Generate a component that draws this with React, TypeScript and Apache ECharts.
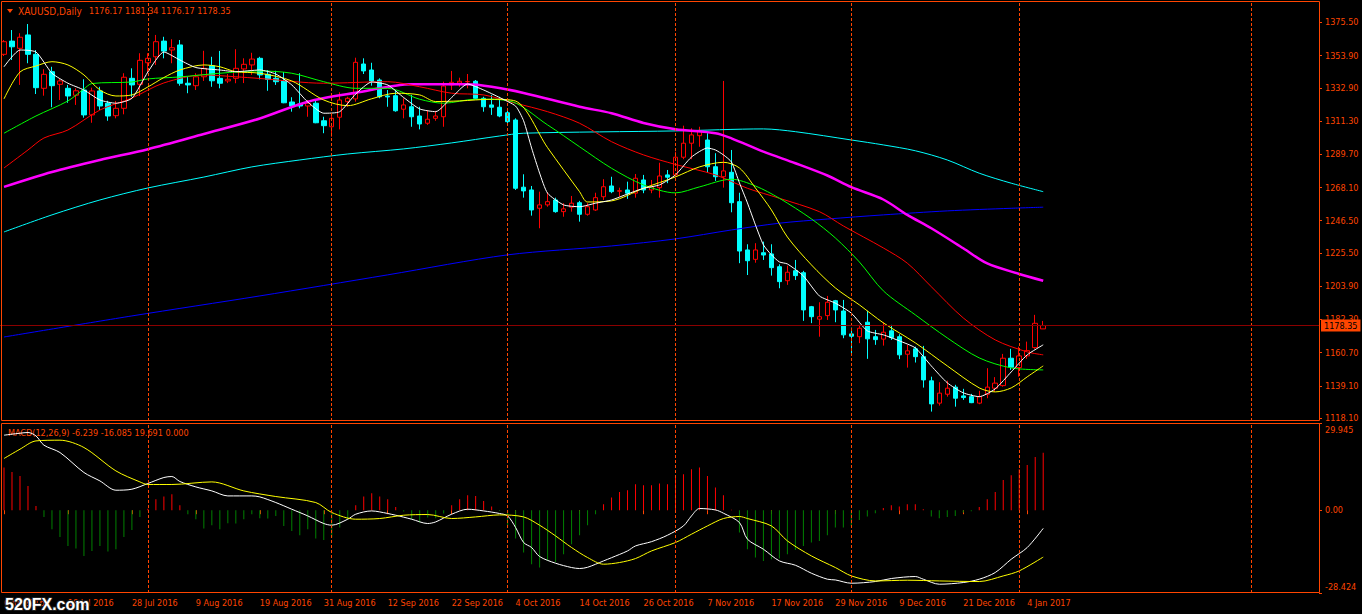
import React, { useEffect, useRef } from "react";
import * as echarts from "echarts";

const ORANGE = "#ff4500";
const FONT = "'DejaVu Sans Condensed', 'Liberation Sans', sans-serif";
const TOTAL_BARS = 165;

const symbolTitle = "XAUUSD,Daily";
const dateLabels = [
  "6 Jul 2016", "18 Jul 2016", "28 Jul 2016", "9 Aug 2016", "19 Aug 2016", "31 Aug 2016",
  "12 Sep 2016", "22 Sep 2016", "4 Oct 2016", "14 Oct 2016", "26 Oct 2016", "7 Nov 2016",
  "17 Nov 2016", "29 Nov 2016", "9 Dec 2016", "21 Dec 2016", "4 Jan 2017",
];
const priceTicks = [1375.5, 1353.9, 1332.9, 1311.3, 1289.7, 1268.1, 1246.5, 1225.5, 1203.9, 1182.3, 1160.7, 1139.1, 1118.1];
const macdTicks = [29.945, 0, -28.424];
const monthBars = [18, 41, 63, 84, 106, 127, 156];

// [open, close, low, high]
const ohlc = [
  [1354.7, 1362.9, 1353.6, 1364.0], [1363.3, 1359.6, 1351.0, 1370.5], [1358.6, 1365.8, 1334.8, 1368.4],
  [1367.3, 1354.7, 1348.9, 1374.4], [1354.7, 1333.0, 1328.9, 1357.5], [1332.6, 1341.7, 1327.8, 1345.0],
  [1343.4, 1334.3, 1320.3, 1346.6], [1335.2, 1337.4, 1325.0, 1339.1], [1332.6, 1327.6, 1323.2, 1334.8],
  [1328.1, 1331.0, 1321.8, 1332.6], [1331.5, 1315.3, 1313.5, 1338.5], [1315.3, 1330.9, 1310.2, 1333.0],
  [1330.9, 1321.1, 1318.5, 1333.6], [1322.9, 1314.6, 1311.5, 1324.5], [1314.8, 1319.6, 1313.1, 1324.4],
  [1319.6, 1339.8, 1315.7, 1342.4], [1339.1, 1334.8, 1327.1, 1345.6], [1335.2, 1350.8, 1327.6, 1355.4],
  [1349.2, 1352.1, 1343.2, 1355.4], [1353.1, 1362.9, 1347.8, 1367.3], [1363.3, 1356.8, 1352.1, 1366.1],
  [1357.5, 1359.0, 1348.9, 1364.5], [1360.8, 1335.9, 1334.3, 1364.0], [1335.9, 1334.8, 1329.4, 1340.1],
  [1334.3, 1340.1, 1331.5, 1342.4], [1340.1, 1345.6, 1337.4, 1357.0], [1347.3, 1337.5, 1333.6, 1353.1],
  [1339.1, 1335.9, 1332.6, 1356.9], [1337.4, 1338.5, 1336.0, 1341.9], [1339.1, 1345.6, 1335.9, 1358.0],
  [1345.2, 1348.2, 1336.0, 1352.1], [1347.8, 1351.6, 1341.3, 1355.7], [1352.1, 1341.3, 1338.4, 1353.1],
  [1341.7, 1338.4, 1331.0, 1344.5], [1339.1, 1336.9, 1334.8, 1344.0], [1337.5, 1323.2, 1322.9, 1343.2],
  [1323.7, 1321.1, 1317.4, 1326.8], [1322.4, 1321.1, 1319.6, 1342.4], [1321.1, 1322.9, 1314.1, 1325.0],
  [1322.9, 1310.2, 1309.9, 1325.0], [1311.5, 1308.3, 1303.4, 1314.1], [1307.6, 1313.1, 1301.1, 1315.3],
  [1313.8, 1325.0, 1305.9, 1330.0], [1323.9, 1326.1, 1320.6, 1327.1], [1325.7, 1349.5, 1323.9, 1352.5],
  [1348.4, 1343.9, 1341.9, 1352.1], [1344.5, 1337.4, 1334.3, 1349.2], [1338.0, 1327.1, 1326.1, 1339.1],
  [1327.6, 1327.0, 1320.6, 1331.5], [1327.8, 1318.0, 1317.4, 1331.5], [1319.0, 1321.8, 1313.1, 1326.1],
  [1320.6, 1314.1, 1307.6, 1328.3], [1314.6, 1309.4, 1305.9, 1320.6], [1309.9, 1312.5, 1308.8, 1318.5],
  [1313.1, 1314.6, 1311.5, 1317.9], [1314.1, 1334.1, 1307.6, 1336.9], [1334.8, 1336.5, 1331.5, 1343.9],
  [1336.0, 1337.2, 1333.6, 1339.5], [1336.9, 1337.0, 1332.6, 1341.9], [1337.2, 1326.1, 1325.5, 1338.0],
  [1326.1, 1320.6, 1317.4, 1327.1], [1321.8, 1320.3, 1315.3, 1328.3], [1320.3, 1314.6, 1313.8, 1327.1],
  [1316.7, 1310.9, 1309.9, 1319.6], [1312.0, 1267.6, 1266.5, 1313.1], [1268.3, 1265.9, 1261.5, 1276.7],
  [1266.5, 1253.5, 1249.8, 1269.1], [1254.6, 1256.8, 1241.6, 1265.4], [1256.8, 1258.9, 1255.6, 1265.0],
  [1260.0, 1252.4, 1251.7, 1261.5], [1252.4, 1254.2, 1249.1, 1257.9], [1255.3, 1257.9, 1252.4, 1262.6],
  [1258.2, 1250.7, 1245.9, 1259.4], [1250.7, 1255.6, 1249.8, 1257.9], [1253.5, 1261.5, 1252.9, 1264.7],
  [1262.1, 1268.6, 1260.0, 1273.5], [1269.1, 1265.4, 1264.4, 1275.1], [1265.7, 1266.0, 1262.1, 1268.0],
  [1266.5, 1264.4, 1260.7, 1271.9], [1264.4, 1274.1, 1261.5, 1276.9], [1273.0, 1266.5, 1264.4, 1276.3],
  [1266.5, 1268.5, 1264.4, 1273.0], [1268.0, 1275.6, 1261.5, 1284.2], [1276.3, 1274.8, 1270.9, 1279.5],
  [1276.3, 1287.8, 1275.1, 1291.4], [1287.8, 1296.9, 1286.5, 1308.3], [1296.9, 1302.3, 1286.5, 1306.6],
  [1301.8, 1304.9, 1294.6, 1307.6], [1299.0, 1281.6, 1277.7, 1303.4], [1281.6, 1275.1, 1272.4, 1290.4],
  [1275.1, 1278.9, 1268.0, 1337.4], [1278.0, 1258.2, 1252.0, 1292.5], [1258.9, 1226.8, 1218.9, 1264.7],
  [1227.5, 1220.5, 1211.2, 1231.2], [1221.4, 1227.5, 1219.2, 1231.9], [1225.7, 1224.2, 1221.0, 1232.9],
  [1224.9, 1216.0, 1210.8, 1231.2], [1216.6, 1206.9, 1202.6, 1218.2], [1207.5, 1213.0, 1204.8, 1217.3],
  [1214.0, 1210.8, 1208.0, 1221.0], [1212.7, 1188.5, 1181.4, 1213.9], [1190.6, 1184.1, 1179.9, 1191.1],
  [1182.5, 1184.1, 1171.1, 1193.5], [1184.8, 1193.5, 1182.0, 1197.6], [1194.5, 1188.5, 1180.5, 1195.0],
  [1187.8, 1172.3, 1170.1, 1195.0], [1172.9, 1171.4, 1159.9, 1177.0], [1171.1, 1176.6, 1166.9, 1178.8],
  [1180.5, 1169.7, 1156.7, 1187.9], [1171.1, 1169.2, 1165.8, 1175.5], [1169.5, 1174.0, 1165.3, 1180.5],
  [1174.9, 1170.5, 1169.0, 1178.8], [1171.1, 1159.3, 1156.5, 1172.7], [1159.7, 1161.9, 1151.0, 1165.8],
  [1163.2, 1158.1, 1154.3, 1164.6], [1158.1, 1143.0, 1138.0, 1165.1], [1142.4, 1127.4, 1122.4, 1145.1],
  [1127.9, 1134.4, 1126.3, 1141.5], [1133.7, 1137.6, 1132.1, 1142.5], [1138.3, 1131.1, 1125.6, 1139.8],
  [1132.6, 1131.5, 1130.0, 1137.2], [1132.1, 1128.2, 1127.9, 1133.9], [1127.9, 1132.1, 1127.2, 1135.9],
  [1133.7, 1138.3, 1131.1, 1150.6], [1137.6, 1140.9, 1135.4, 1144.8], [1139.3, 1157.1, 1138.6, 1159.9],
  [1157.1, 1151.3, 1149.5, 1163.2], [1151.0, 1158.6, 1145.1, 1164.6], [1158.6, 1162.0, 1156.7, 1167.9],
  [1164.0, 1179.8, 1163.2, 1185.3], [1176.17, 1178.35, 1176.17, 1181.34],
];

// moving averages: [bar index, price]
const maWhite = [
  [0, 1346.6], [2, 1357.5], [4, 1356.2], [6, 1342.4], [8, 1335.9], [10, 1331.5], [12, 1325.0], [14, 1322.9],
  [16, 1326.1], [18, 1343.2], [20, 1356.2], [22, 1351.0], [24, 1346.1], [27, 1344.5], [29, 1343.4], [32, 1344.5],
  [34, 1341.9], [36, 1334.8], [38, 1323.7], [40, 1316.4], [42, 1317.4], [44, 1328.9], [46, 1336.7], [48, 1334.8],
  [50, 1326.6], [52, 1319.2], [54, 1317.4], [56, 1326.6], [58, 1335.4], [60, 1331.5], [62, 1326.6], [64, 1321.0],
  [65, 1311.5], [66, 1293.8], [67, 1277.5], [68, 1264.4], [70, 1256.8], [72, 1255.6], [74, 1257.9], [76, 1260.0],
  [78, 1263.9], [80, 1267.6], [82, 1269.8], [84, 1276.3], [86, 1287.9], [88, 1293.8], [89, 1292.5], [90, 1289.3],
  [91, 1284.7], [92, 1271.1], [93, 1258.1], [94, 1243.8], [95, 1230.8], [96, 1224.3], [97, 1219.7], [98, 1218.4],
  [100, 1210.6], [102, 1197.6], [104, 1192.9], [106, 1186.4], [108, 1174.9], [110, 1172.3], [112, 1168.4],
  [114, 1163.8], [116, 1152.1], [118, 1141.1], [120, 1134.6], [122, 1132.1], [124, 1137.2], [126, 1148.2],
  [128, 1159.3], [130, 1165.8],
];
const maYellow = [
  [0, 1325.7], [2, 1343.2], [4, 1347.1], [6, 1349.9], [8, 1347.8], [10, 1341.3], [12, 1331.5], [14, 1327.6],
  [16, 1328.3], [18, 1333.5], [20, 1339.6], [22, 1344.5], [25, 1347.8], [27, 1346.6], [29, 1343.4], [32, 1342.4],
  [36, 1337.4], [40, 1325.0], [43, 1321.3], [46, 1325.8], [49, 1329.4], [52, 1328.3], [54, 1324.0], [57, 1324.4],
  [61, 1325.5], [64, 1324.3], [68, 1294.0], [72, 1265.4], [73, 1258.7], [76, 1259.4], [80, 1267.6], [84, 1275.0],
  [87, 1281.5], [90, 1284.5], [92, 1280.8], [94, 1267.8], [96, 1253.5], [98, 1235.9], [101, 1217.8], [104, 1202.8],
  [107, 1191.8], [110, 1180.1], [114, 1167.1], [118, 1152.1], [122, 1137.8], [124, 1135.2], [126, 1137.8],
  [128, 1145.0], [130, 1152.1],
];
const maGreen = [
  [0, 1303.4], [4, 1314.6], [8, 1324.4], [10, 1332.2], [11, 1335.7], [16, 1336.7], [18, 1338.7], [22, 1340.0],
  [27, 1342.4], [32, 1343.9], [36, 1342.4], [40, 1336.9], [44, 1332.6], [48, 1332.6], [52, 1325.5], [55, 1322.9],
  [59, 1325.5], [63, 1324.7], [68, 1308.8], [72, 1294.6], [76, 1280.6], [80, 1269.8], [84, 1264.6], [87, 1268.5],
  [91, 1273.5], [94, 1269.1], [97, 1261.1], [101, 1247.7], [104, 1235.3], [107, 1219.7], [110, 1200.9],
  [114, 1185.3], [118, 1170.3], [122, 1157.3], [126, 1150.8], [130, 1149.5],
];
const maRed = [
  [0, 1280.8], [3, 1292.5], [5, 1300.3], [8, 1305.5], [12, 1318.5], [16, 1326.3], [20, 1336.1], [25, 1341.3],
  [29, 1340.1], [32, 1339.0], [40, 1335.9], [48, 1336.9], [52, 1333.6], [56, 1329.4], [60, 1328.3], [64, 1322.9],
  [68, 1317.4], [72, 1309.9], [76, 1297.9], [80, 1289.3], [84, 1283.1], [89, 1276.3], [93, 1267.6], [97, 1261.1],
  [102, 1252.4], [105, 1243.1], [110, 1228.8], [113, 1218.9], [116, 1203.6], [120, 1183.3], [124, 1169.0],
  [128, 1161.2], [130, 1159.3],
];
const maMagenta = [
  [0, 1268.5], [6, 1278.2], [12, 1286.0], [18, 1293.0], [25, 1302.9], [32, 1313.0], [38, 1323.9], [44, 1329.7],
  [51, 1335.2], [58, 1335.2], [61, 1333.6], [65, 1329.6], [72, 1320.6], [76, 1316.4], [80, 1310.1], [84, 1306.0],
  [89, 1303.4], [91, 1300.1], [95, 1291.4], [99, 1283.9], [103, 1275.9], [106, 1268.3], [110, 1260.3],
  [113, 1250.3], [116, 1241.6], [120, 1228.6], [123, 1218.7], [127, 1211.9], [130, 1207.5],
];
const maAqua = [
  [0, 1239.2], [6, 1250.3], [12, 1260.0], [18, 1267.8], [25, 1274.9], [31, 1281.5], [37, 1286.0], [43, 1289.9],
  [50, 1293.2], [56, 1297.1], [62, 1301.6], [65, 1303.4], [84, 1304.9], [95, 1306.2], [99, 1304.4], [106, 1299.0],
  [110, 1295.8], [114, 1292.0], [118, 1286.0], [122, 1277.4], [126, 1270.9], [130, 1265.4],
];
const maBlue = [
  [0, 1170.9], [16, 1184.6], [32, 1197.6], [48, 1211.3], [63, 1224.3], [76, 1230.1], [84, 1234.7], [91, 1240.5],
  [97, 1244.9], [103, 1247.6], [110, 1250.3], [118, 1252.9], [126, 1254.6], [130, 1255.3],
];

// MACD pane
const histogram = [
  14.66, 13.15, 11.78, 8.34, 1.48, -2.30, -6.52, -9.17, -12.26, -13.15,
  -15.69, -13.98, -12.26, -14.18, -13.39, -9.17, -6.76, -2.30, 0.5, 3.78,
  4.70, 5.49, 1.72, -1.37, -3.09, -6.28, -5.15, -6.52, -4.46, -4.57,
  -3.09, -1.37, -2.75, -2.85, -1.96, -5.39, -7.11, -8.59, -6.52, -9.72,
  -10.20, -9.37, -5.94, -3.09, 1.72, 4.70, 5.84, 4.70, 3.78, 1.13,
  -0.45, -3.09, -4.22, -2.51, -2.75, -1.13, 1.72, 3.78, 5.15, 4.91,
  3.19, 1.27, -0.24, -5.39, -9.72, -14.53, -18.54, -19.68, -17.41, -17.75,
  -15.11, -11.68, -8.59, -5.15, -1.37, 2.06, 4.36, 6.28, 6.87, 8.93,
  8.59, 8.59, 9.17, 8.93, 11.23, 12.36, 14.08, 14.66, 11.78, 7.80,
  5.15, 0.17, -7.66, -13.39, -16.24, -17.41, -16.83, -16.59, -15.11, -13.63,
  -12.26, -11.09, -10.54, -8.59, -5.94, -5.94, -5.39, -3.33, -2.16, -1.03,
  0.79, 1.72, 1.27, 2.06, 2.06, 0.34, -2.16, -2.75, -2.30, -1.96,
  -0.79, -0.34, 1.13, 3.78, 6.28, 10.40, 12.02, 14.08, 15.56, 18.30,
  19.691,
];
const macdMain = [
  [0, 25.76], [2, 26.44], [3, 26.68], [4, 25.51], [5, 22.32], [7, 19.81], [10, 12.95], [12, 10.06], [14, 6.87],
  [16, 7.21], [18, 9.17], [20, 11.23], [21, 11.57], [22, 9.86], [24, 8.0], [26, 6.63], [28, 4.91], [31, 4.91],
  [32, 4.57], [34, 2.64], [36, 0.34], [38, -1.96], [40, -4.57], [41, -5.15], [43, -3.09], [44, -1.37], [46, -0.24],
  [47, -0.58], [49, -1.72], [51, -3.09], [53, -4.57], [54, -4.02], [56, -1.37], [58, 0.34], [60, -0.24],
  [62, -1.13], [63, -1.96], [64, -5.94], [65, -11.09], [66, -12.81], [67, -15.9], [69, -18.2], [71, -19.68],
  [72, -20.02], [73, -19.6], [75, -17.41], [76, -16.3], [78, -13.98], [79, -12.26], [81, -10.8], [83, -8.59],
  [85, -5.39], [86, -1.96], [87, 0.58], [89, 0.1], [90, -1.03], [92, -4.22], [93, -9.96], [95, -13.39],
  [97, -17.41], [99, -18.89], [101, -21.63], [103, -23.69], [104, -23.94], [106, -25.07], [109, -24.49],
  [111, -23.45], [114, -22.77], [115, -23.69], [117, -25.41], [120, -24.83], [122, -23.69], [124, -21.39],
  [126, -16.83], [128, -12.81], [130, -6.239],
];
const macdSignal = [
  [0, 17.75], [2, 20.95], [4, 23.8], [7, 24.04], [10, 21.53], [14, 13.5], [17, 9.72], [18, 8.83], [21, 8.83],
  [26, 9.72], [30, 6.63], [34, 4.7], [39, 2.64], [41, -0.79], [44, -3.09], [47, -2.85], [50, -1.72], [53, -1.48],
  [56, -2.85], [59, -2.3], [62, -1.61], [65, -2.3], [67, -5.15], [69, -8.83], [71, -12.81], [73, -16.24],
  [75, -18.54], [77, -17.96], [79, -16.59], [81, -13.98], [84, -11.09], [86, -8.24], [88, -5.39], [90, -2.85],
  [92, -2.16], [93, -2.85], [96, -5.39], [98, -10.54], [101, -15.69], [104, -19.68], [106, -22.56], [109, -24.28],
  [113, -24.04], [117, -24.28], [122, -24.49], [125, -22.56], [127, -20.84], [130, -16.085],
];
const macdTitle = "MACD(12,26,9)";
const macdLast = [-6.239, -16.085, 19.691, 0.0];

export default function App() {
  const ref = useRef<HTMLDivElement>(null);

  useEffect(() => {
    if (!ref.current) return;
    const chart = echarts.init(ref.current, undefined, { renderer: "svg", width: 1362, height: 614 });
    const cats = Array.from({ length: TOTAL_BARS }, (_, i) => String(i));
    const last = ohlc[ohlc.length - 1];
    const lastClose = last[1];
    const headerValues = [last[0], last[3], last[2], last[1]].map((v) => v.toFixed(2)).join(" ");
    const macdHeader = macdTitle + " " + macdLast.map((v) => v.toFixed(3)).join(" ");
    const showDate = (i: number) => i % 8 === 0 && i / 8 < dateLabels.length;

    const gridLine = (b: number) => ({
      xAxis: b,
      lineStyle: { color: ORANGE, type: [3, 2], width: 1 },
      label: { show: false },
    });

    const maLine = (data: number[][], color: string, width = 1, smooth: number | boolean = 0.3) => ({
      type: "line",
      xAxisIndex: 0,
      yAxisIndex: 0,
      data,
      symbol: "none",
      silent: true,
      smooth,
      z: 4,
      lineStyle: { color, width },
    });

    const option: any = {
      animation: false,
      backgroundColor: "#000000",
      grid: [
        { left: -1, top: 1, width: 1320, height: 420, show: false },
        { left: -1, top: 423, width: 1320, height: 170, show: false },
      ],
      xAxis: [
        {
          type: "category",
          gridIndex: 0,
          data: cats,
          boundaryGap: true,
          axisLine: { show: false },
          axisTick: { show: false },
          axisLabel: { show: false },
          splitLine: { show: false },
        },
        {
          type: "category",
          gridIndex: 1,
          data: cats,
          boundaryGap: true,
          axisLine: { show: false },
          axisTick: {
            show: true,
            alignWithLabel: true,
            interval: (i: number) => showDate(i),
            length: 4,
            lineStyle: { color: ORANGE },
          },
          axisLabel: {
            interval: (i: number) => showDate(i),
            formatter: (_v: string, i: number) => dateLabels[i / 8] ?? "",
            align: "left",
            color: ORANGE,
            fontSize: 9,
            fontFamily: FONT,
            margin: 5,
          },
          splitLine: { show: false },
        },
      ],
      yAxis: [
        {
          type: "value",
          gridIndex: 0,
          position: "right",
          min: 1116.28,
          max: 1389.37,
          splitLine: { show: false },
          axisLine: { show: false },
          axisTick: { show: true, customValues: priceTicks, length: 3, lineStyle: { color: ORANGE } },
          axisLabel: {
            customValues: priceTicks,
            formatter: (v: number) => v.toFixed(2),
            color: ORANGE,
            fontSize: 9,
            fontFamily: FONT,
            margin: 6,
          },
        },
        {
          type: "value",
          gridIndex: 1,
          position: "right",
          min: -28.424,
          max: 29.945,
          splitLine: { show: false },
          axisLine: { show: false },
          axisTick: { show: true, customValues: macdTicks, length: 3, lineStyle: { color: ORANGE } },
          axisLabel: {
            customValues: macdTicks,
            formatter: (v: number) => (v > 1 ? "\n" + v.toFixed(3) : v < -1 ? v.toFixed(3) + "\n" : "0.00"),
            color: ORANGE,
            fontSize: 9,
            lineHeight: 13,
            fontFamily: FONT,
            margin: 6,
          },
        },
      ],
      series: [
        {
          type: "candlestick",
          xAxisIndex: 0,
          yAxisIndex: 0,
          data: ohlc,
          barWidth: 5,
          silent: true,
          z: 3,
          itemStyle: {
            color: "#000000",
            color0: "#00ffff",
            borderColor: "#ff0000",
            borderColor0: "#00ffff",
            borderWidth: 1,
          },
          markLine: {
            symbol: ["none", "none"],
            silent: true,
            animation: false,
            data: [
              ...monthBars.map(gridLine),
              {
                yAxis: lastClose,
                lineStyle: { color: "#8b0000", type: "solid", width: 1 },
                label: {
                  show: true,
                  position: "end",
                  formatter: lastClose.toFixed(2),
                  color: "#000000",
                  backgroundColor: ORANGE,
                  padding: [2, 3, 1, 3],
                  fontSize: 9,
                  fontFamily: FONT,
                  distance: 2,
                },
              },
            ],
          },
        },
        maLine(maBlue, "#0000ff", 1, 0.3),
        maLine(maAqua, "#00ffff", 1, 0.3),
        maLine(maMagenta, "#ff00ff", 2.5, 0.3),
        maLine(maRed, "#ff0000", 1, 0.3),
        maLine(maGreen, "#00ff00", 1, 0.3),
        maLine(maYellow, "#ffff00", 1, 0.3),
        maLine(maWhite, "#ffffff", 1, 0.2),
        {
          type: "bar",
          xAxisIndex: 1,
          yAxisIndex: 1,
          data: histogram,
          barWidth: 1,
          silent: true,
          itemStyle: { color: (p: any) => (p.value >= 0 ? "#ff0000" : "#008000") },
          markLine: {
            symbol: ["none", "none"],
            silent: true,
            animation: false,
            data: monthBars.map(gridLine),
          },
        },
        {
          type: "line",
          xAxisIndex: 1,
          yAxisIndex: 1,
          data: macdMain,
          symbol: "none",
          silent: true,
          smooth: 0.3,
          lineStyle: { color: "#ffffff", width: 1 },
        },
        {
          type: "line",
          xAxisIndex: 1,
          yAxisIndex: 1,
          data: macdSignal,
          symbol: "none",
          silent: true,
          smooth: 0.3,
          lineStyle: { color: "#ffff00", width: 1 },
        },
      ],
      graphic: [
        {
          type: "rect",
          silent: true,
          z: 100,
          shape: { x: 1.5, y: 1.5, width: 1318, height: 419 },
          style: { fill: "none", stroke: ORANGE, lineWidth: 1 },
        },
        {
          type: "rect",
          silent: true,
          z: 100,
          shape: { x: 1.5, y: 423.5, width: 1318, height: 169 },
          style: { fill: "none", stroke: ORANGE, lineWidth: 1 },
        },
        {
          type: "polygon",
          silent: true,
          z: 100,
          shape: { points: [[7, 9], [13, 9], [10, 13]] },
          style: { fill: ORANGE },
        },
        {
          type: "text",
          silent: true,
          z: 100,
          x: 18,
          y: 11,
          style: { text: symbolTitle, fill: ORANGE, fontSize: 10, fontFamily: FONT, verticalAlign: "middle" },
        },
        {
          type: "text",
          silent: true,
          z: 100,
          x: 89,
          y: 11,
          style: { text: headerValues, fill: ORANGE, fontSize: 9, fontFamily: FONT, verticalAlign: "middle" },
        },
        {
          type: "text",
          silent: true,
          z: 1,
          x: 8,
          y: 433,
          style: { text: macdHeader, fill: ORANGE, fontSize: 9, fontFamily: FONT, verticalAlign: "middle" },
        },
        {
          type: "text",
          silent: true,
          z: 200,
          x: 5,
          y: 604,
          style: {
            text: "520FX.com",
            fill: "#ffffff",
            stroke: "#202020",
            lineWidth: 2,
            fontSize: 16,
            fontWeight: "bold",
            fontFamily: "'Liberation Sans', Arial, sans-serif",
            verticalAlign: "middle",
          },
        },
      ],
    };

    chart.setOption(option);
    return () => chart.dispose();
  }, []);

  return (
    <div
      ref={ref}
      style={{ position: "fixed", left: 0, top: 0, width: 1362, height: 614, background: "#000000" }}
    />
  );
}
